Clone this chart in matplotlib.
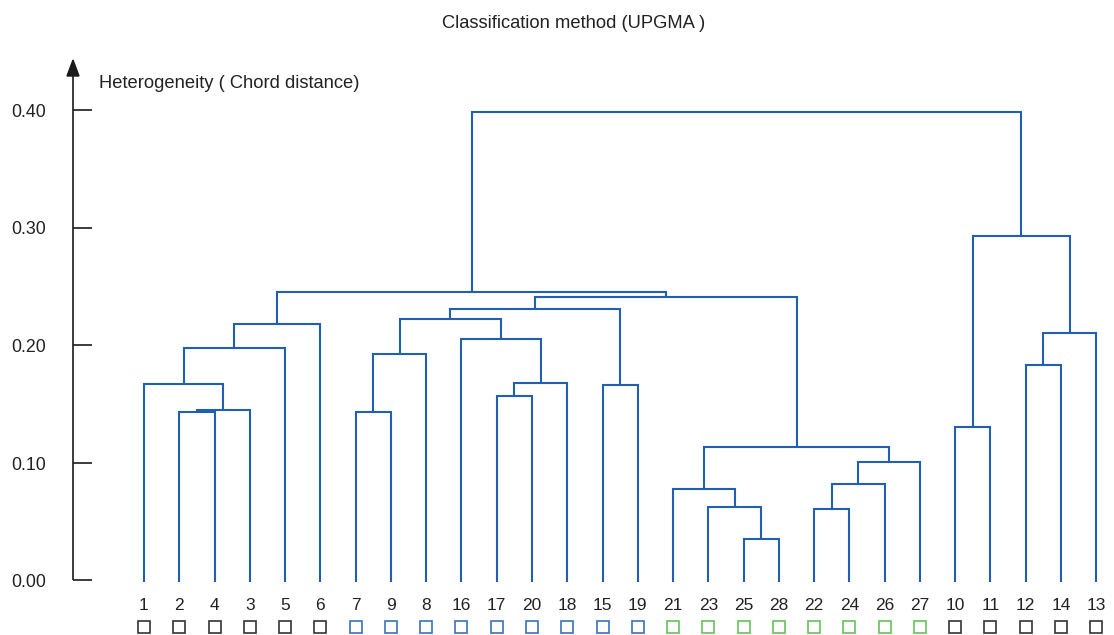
import matplotlib
matplotlib.use("Agg")
import matplotlib.pyplot as plt
from matplotlib.patches import Polygon

plt.rcParams['font.family'] = ['Liberation Sans', 'DejaVu Sans']

# Leaf order along the x axis
leaf_order = [1, 2, 4, 3, 5, 6, 7, 9, 8, 16, 17, 20, 18, 15, 19,
              21, 23, 25, 28, 22, 24, 26, 27, 10, 11, 12, 14, 13]

# Group of each leaf (0 = black, 1 = blue, 2 = green)
leaf_group = [0, 0, 0, 0, 0, 0, 1, 1, 1, 1, 1, 1, 1, 1, 1,
              2, 2, 2, 2, 2, 2, 2, 2, 0, 0, 0, 0, 0]
group_colors = ['#333333', '#3a72c0', '#66c05a']

# UPGMA merges: left child, right child, chord-distance height
merge_left = [2, 'c0', 1, 'c2', 'c3', 7, 'c5', 17, 'c7', 16, 'c6', 15, 'c10',
              25, 23, 21, 22, 'c16', 'c17', 'c15', 'c12', 'c4', 10, 12, 'c23', 'c22', 'c21']
merge_right = [4, 3, 'c1', 5, 6, 9, 8, 20, 18, 'c8', 'c9', 19, 'c11',
               28, 'c13', 'c14', 24, 26, 27, 'c18', 'c19', 'c20', 11, 14, 13, 'c24', 'c25']
merge_height = [0.1427, 0.1444, 0.1668, 0.1974, 0.2179, 0.1430, 0.1923, 0.1566,
                0.1674, 0.2051, 0.2221, 0.1660, 0.2309, 0.0352, 0.0621, 0.0777,
                0.0607, 0.0820, 0.1007, 0.1132, 0.2409, 0.2454, 0.1299, 0.1833,
                0.2102, 0.2928, 0.3983]

y_ticks = [0.0, 0.1, 0.2, 0.3, 0.4]
y_tick_labels = ['0.00', '0.10', '0.20', '0.30', '0.40']

W, H = 1114, 635
fig = plt.figure(figsize=(W / 100, H / 100), dpi=100)
ax = fig.add_axes([0, 0, 1, 1])
ax.set_axis_off()

# Pixel-aligned data frame: leaf i at x=i, height in distance units
x0_px, dx_px = 144.0, (1096.3 - 144.0) / 27
y0_px, dy_px = 580.0, 1175.0
ax.set_xlim(-x0_px / dx_px, (W - x0_px) / dx_px)
ax.set_ylim(-(H - y0_px) / dy_px, y0_px / dy_px)

def px2x(px):
    return (px - x0_px) / dx_px

def px2y(py):
    return (y0_px - py) / dy_px

line_color = '#2160b0'
text_color = '#222222'
lw = 1.5

pos = {leaf: (i, 0.0) for i, leaf in enumerate(leaf_order)}
for i, (a, b, h) in enumerate(zip(merge_left, merge_right, merge_height)):
    xa, ya = pos[a]
    xb, yb = pos[b]
    ax.plot([xa, xa, xb, xb], [ya, h, h, yb], color=line_color, lw=lw,
            solid_joinstyle='miter', solid_capstyle='butt')
    pos['c%d' % i] = ((xa + xb) / 2, h)

# Short stubs under the leaves
for i in range(len(leaf_order)):
    ax.plot([i, i], [0, px2y(582)], color=line_color, lw=lw, solid_capstyle='butt')

# Vertical axis with arrow head
ax_x = px2x(73)
ax.plot([ax_x, ax_x], [0, px2y(74)], color='#1a1a1a', lw=1.2, solid_capstyle='butt')
tri = Polygon([[px2x(67), px2y(76)], [px2x(79), px2y(76)], [ax_x, px2y(60)]],
              closed=True, color='#1a1a1a')
ax.add_patch(tri)
for t, lab in zip(y_ticks, y_tick_labels):
    ax.plot([ax_x, px2x(92)], [t, t], color='#1a1a1a', lw=1.2, solid_capstyle='butt')
    ax.text(px2x(29), t - 7 / dy_px, lab, ha='center', va='baseline', fontsize=12.8,
            color=text_color)

ax.text(px2x(99), px2y(87.5), 'Heterogeneity ( Chord distance)', ha='left', va='baseline',
        fontsize=13.2, color=text_color)
ax.text(px2x(574), px2y(27.5), 'Classification method (UPGMA )', ha='center', va='baseline',
        fontsize=13.2, color=text_color)

# Leaf labels and group markers
for i, (leaf, g) in enumerate(zip(leaf_order, leaf_group)):
    ax.text(i, px2y(610), str(leaf), ha='center', va='baseline', fontsize=12.5,
            color=text_color)
    ax.plot(i, px2y(626.5), marker='s', ms=8.5, mfc='white', mec=group_colors[g], mew=1.2,
            linestyle='none')

fig.savefig('out.png', dpi=100)
